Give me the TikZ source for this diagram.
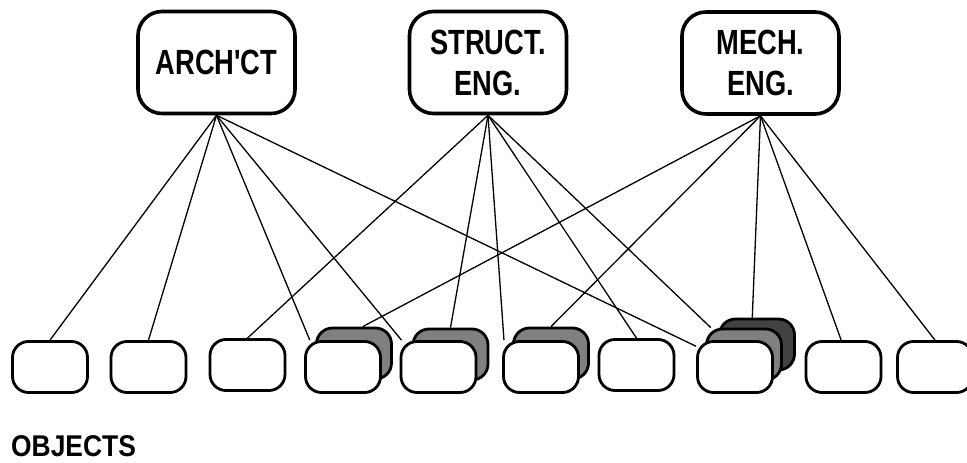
\documentclass[tikz,border=0pt]{standalone}
\usepackage{fontspec}
\setmainfont{Liberation Sans}
\newfontfamily\rolefont{Liberation Sans}[FakeStretch=0.78]
\newfontfamily\capfont{Liberation Sans}[FakeStretch=0.88]
\usetikzlibrary{backgrounds}

\definecolor{midgrey}{gray}{0.5}
\definecolor{darkgrey}{gray}{0.26}

\tikzset{
	role/.style={draw, line width=3.6pt, rounded corners=24pt, fill=white,
		minimum width=157pt, minimum height=102pt, inner sep=0pt,
		align=center, font=\rolefont\bfseries\fontsize{35}{41}\selectfont},
	obj/.style={draw, line width=2.8pt, rounded corners=16pt, fill=white,
		minimum width=75pt, minimum height=51pt, inner sep=0pt},
	objmid/.style={obj, fill=midgrey},
	objback/.style={obj, fill=darkgrey},
	link/.style={line width=1.3pt}
}

\begin{document}
\begin{tikzpicture}[x=1pt,y=1pt]
	\useasboundingbox (0,0) rectangle (967,463);

	% the three disciplines
	\node [role] (arch) at (216.5,400.5) {ARCH'CT};
	\node [role] (struct) at (488,400.5) {STRUCT.\\ENG.};
	\node [role] (mech) at (760.5,400) {MECH.\\ENG.};

	% shared objects sit behind the front ones
	\node [objmid] (o4b) at (354,109.5) {};
	\node [objmid] (o5b) at (450.5,108.5) {};
	\node [objmid] (o6b) at (551,109.5) {};
	\node [objback] (o8b) at (757,118.5) {};
	\node [objmid] (o8m) at (744,108.5) {};

	\foreach \n/\x/\y in {1/50/96, 2/148.5/96, 3/247.5/98, 4/343/96,
		5/438.5/96, 6/541/96, 7/636.5/98, 8/735/96,
		9/843.5/96, 10/935/96}
		\node [obj] (o\n) at (\x,\y) {};

	\node [anchor=base west, inner sep=0pt, font=\capfont\bfseries\fontsize{30}{36}\selectfont]
		(objects) at (11,6) {OBJECTS};

	\begin{scope}[on background layer]
		\draw [link] (arch.south) -- (o1.north);
		\draw [link] (arch.south) -- (o2.north);
		\draw [link] (arch.south) -- (o4.141);
		\draw [link] (arch.south) -- (o5.144);
		\draw [link] (arch.south) -- (o8.152);

		\draw [link] (struct.south) -- (o3.north);
		\draw [link] (struct.south) -- (o5b.north);
		\draw [link] (struct.south) -- (o6.144);
		\draw [link] (struct.south) -- (o7.north);
		\draw [link] (struct.south) -- (o8m.141);

		\draw [link] (mech.south) -- (o4b.72);
		\draw [link] (mech.south) -- (o6b.north);
		\draw [link] (mech.south) -- (o8b.100);
		\draw [link] (mech.south) -- (o9.95);
		\draw [link] (mech.south) -- (o10.north);
	\end{scope}
\end{tikzpicture}
\end{document}
